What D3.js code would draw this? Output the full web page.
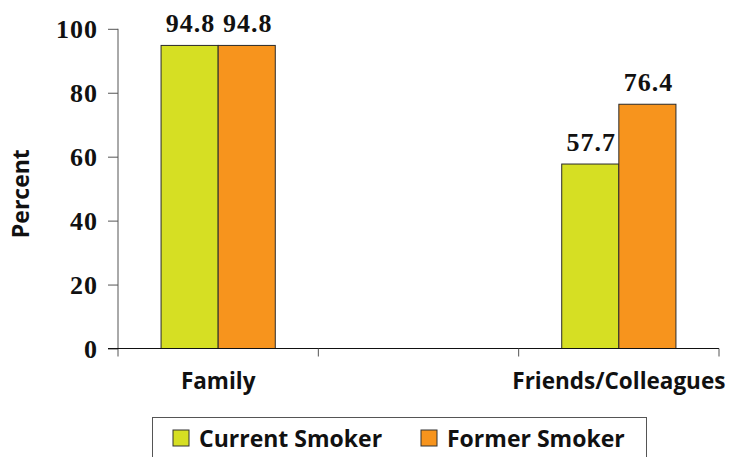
<!DOCTYPE html>
<html>
<head>
<meta charset="utf-8">
<script src="https://cdn.jsdelivr.net/npm/d3@7"></script>
<style>
  html, body { margin: 0; padding: 0; background: #fff; }
  svg { display: block; }
</style>
</head>
<body>
<svg id="chart" width="730" height="457"></svg>
<script>
// Slots along the x axis; the middle slot is left blank
const categories = ["Family", "", "Friends/Colleagues"];
const series = ["Current Smoker", "Former Smoker"];
const currentSmoker = [94.8, null, 57.7];
const formerSmoker = [94.8, null, 76.4];
const yTicks = [0, 20, 40, 60, 80, 100];
const colors = ["#d6df23", "#f7941d"];

const svg = d3.select("#chart");
const margin = { left: 118 };

const x0 = d3.scaleBand().domain(categories)
  .range([margin.left, 719]).paddingInner(0).paddingOuter(0);
const x1 = d3.scaleBand().domain(series)
  .range([0, x0.bandwidth()]).paddingInner(0).paddingOuter(0.754);
const y = d3.scaleLinear().domain([0, 100]).range([348.5, 28.8]);

const numFont = "Liberation Serif";
const sansFont = "Open Sans";

// Bars
const rows = categories.map((c, i) => ({
  cat: c,
  vals: [currentSmoker[i], formerSmoker[i]]
}));

const groups = svg.append("g").selectAll("g")
  .data(rows.filter(r => r.vals.every(v => v != null)))
  .join("g")
  .attr("transform", d => `translate(${x0(d.cat)},0)`);

groups.selectAll("rect")
  .data(d => d.vals.map((v, j) => ({ s: series[j], v, j })))
  .join("rect")
  .attr("x", d => x1(d.s))
  .attr("y", d => y(d.v))
  .attr("width", x1.bandwidth())
  .attr("height", d => y(0) - y(d.v))
  .attr("fill", d => colors[d.j])
  .attr("stroke", "#2a2a2a")
  .attr("stroke-width", 1);

groups.selectAll("text")
  .data(d => d.vals.map((v, j) => ({ s: series[j], v, j })))
  .join("text")
  .attr("x", d => x1(d.s) + x1.bandwidth() / 2 + 1)
  .attr("y", d => y(d.v) - 13)
  .attr("text-anchor", "middle")
  .attr("font-family", numFont)
  .attr("font-weight", 700)
  .attr("font-size", 26)
  .attr("letter-spacing", 1)
  .attr("fill", "#111")
  .text(d => d.v.toFixed(1));

// Y axis
const yAxis = svg.append("g")
  .attr("transform", `translate(${margin.left},0)`)
  .call(d3.axisLeft(y).tickValues(yTicks).tickSize(10).tickSizeOuter(0).tickPadding(10));
yAxis.attr("font-family", null).attr("font-size", null);
yAxis.select(".domain").attr("stroke", "#555").attr("d", `M0,${y(100)}V${y(0) + 8}`);
yAxis.selectAll(".tick line").attr("stroke", "#555");
yAxis.selectAll(".tick text")
  .attr("font-family", numFont)
  .attr("font-weight", 700)
  .attr("font-size", 26)
  .attr("letter-spacing", 1)
  .attr("dy", "0.34em")
  .attr("fill", "#111");

// X axis with ticks at slot boundaries
const bounds = categories.map(c => x0(c)).concat([x0.range()[1]]);
const xAxisG = svg.append("g");
xAxisG.append("line")
  .attr("x1", margin.left - 10).attr("x2", x0.range()[1])
  .attr("y1", y(0)).attr("y2", y(0))
  .attr("stroke", "#111").attr("stroke-width", 1);
xAxisG.selectAll("line.tk")
  .data(bounds.slice(1))
  .join("line")
  .attr("class", "tk")
  .attr("x1", d => d).attr("x2", d => d)
  .attr("y1", y(0)).attr("y2", y(0) + 8)
  .attr("stroke", "#555");
xAxisG.selectAll("text")
  .data(categories.filter(c => c))
  .join("text")
  .attr("x", d => x0(d) + x0.bandwidth() / 2)
  .attr("y", 388.5)
  .attr("text-anchor", "middle")
  .attr("font-family", sansFont)
  .attr("font-weight", 700)
  .attr("font-size", 22.5)
  .attr("fill", "#111")
  .text(d => d);

// Y axis title
svg.append("text")
  .attr("transform", `translate(29,${(y(0) + y(100)) / 2 + 5}) rotate(-90)`)
  .attr("text-anchor", "middle")
  .attr("font-family", sansFont)
  .attr("font-weight", 700)
  .attr("font-size", 23)
  .attr("fill", "#111")
  .text("Percent");

// Legend
const legend = svg.append("g");
legend.append("rect")
  .attr("x", 152.5).attr("y", 417.5)
  .attr("width", 494).attr("height", 60)
  .attr("fill", "#fff").attr("stroke", "#555").attr("stroke-width", 1);
const legendX = [173, 421];
const items = legend.selectAll("g.item")
  .data(series)
  .join("g")
  .attr("class", "item")
  .attr("transform", (d, i) => `translate(${legendX[i]},430)`);
items.append("rect")
  .attr("width", 16).attr("height", 16)
  .attr("fill", (d, i) => colors[i])
  .attr("stroke", "#333").attr("stroke-width", 1);
items.append("text")
  .attr("x", 26).attr("y", 16.5)
  .attr("font-family", sansFont)
  .attr("font-weight", 700)
  .attr("font-size", 23)
  .attr("fill", "#111")
  .text(d => d);
</script>
</body>
</html>
